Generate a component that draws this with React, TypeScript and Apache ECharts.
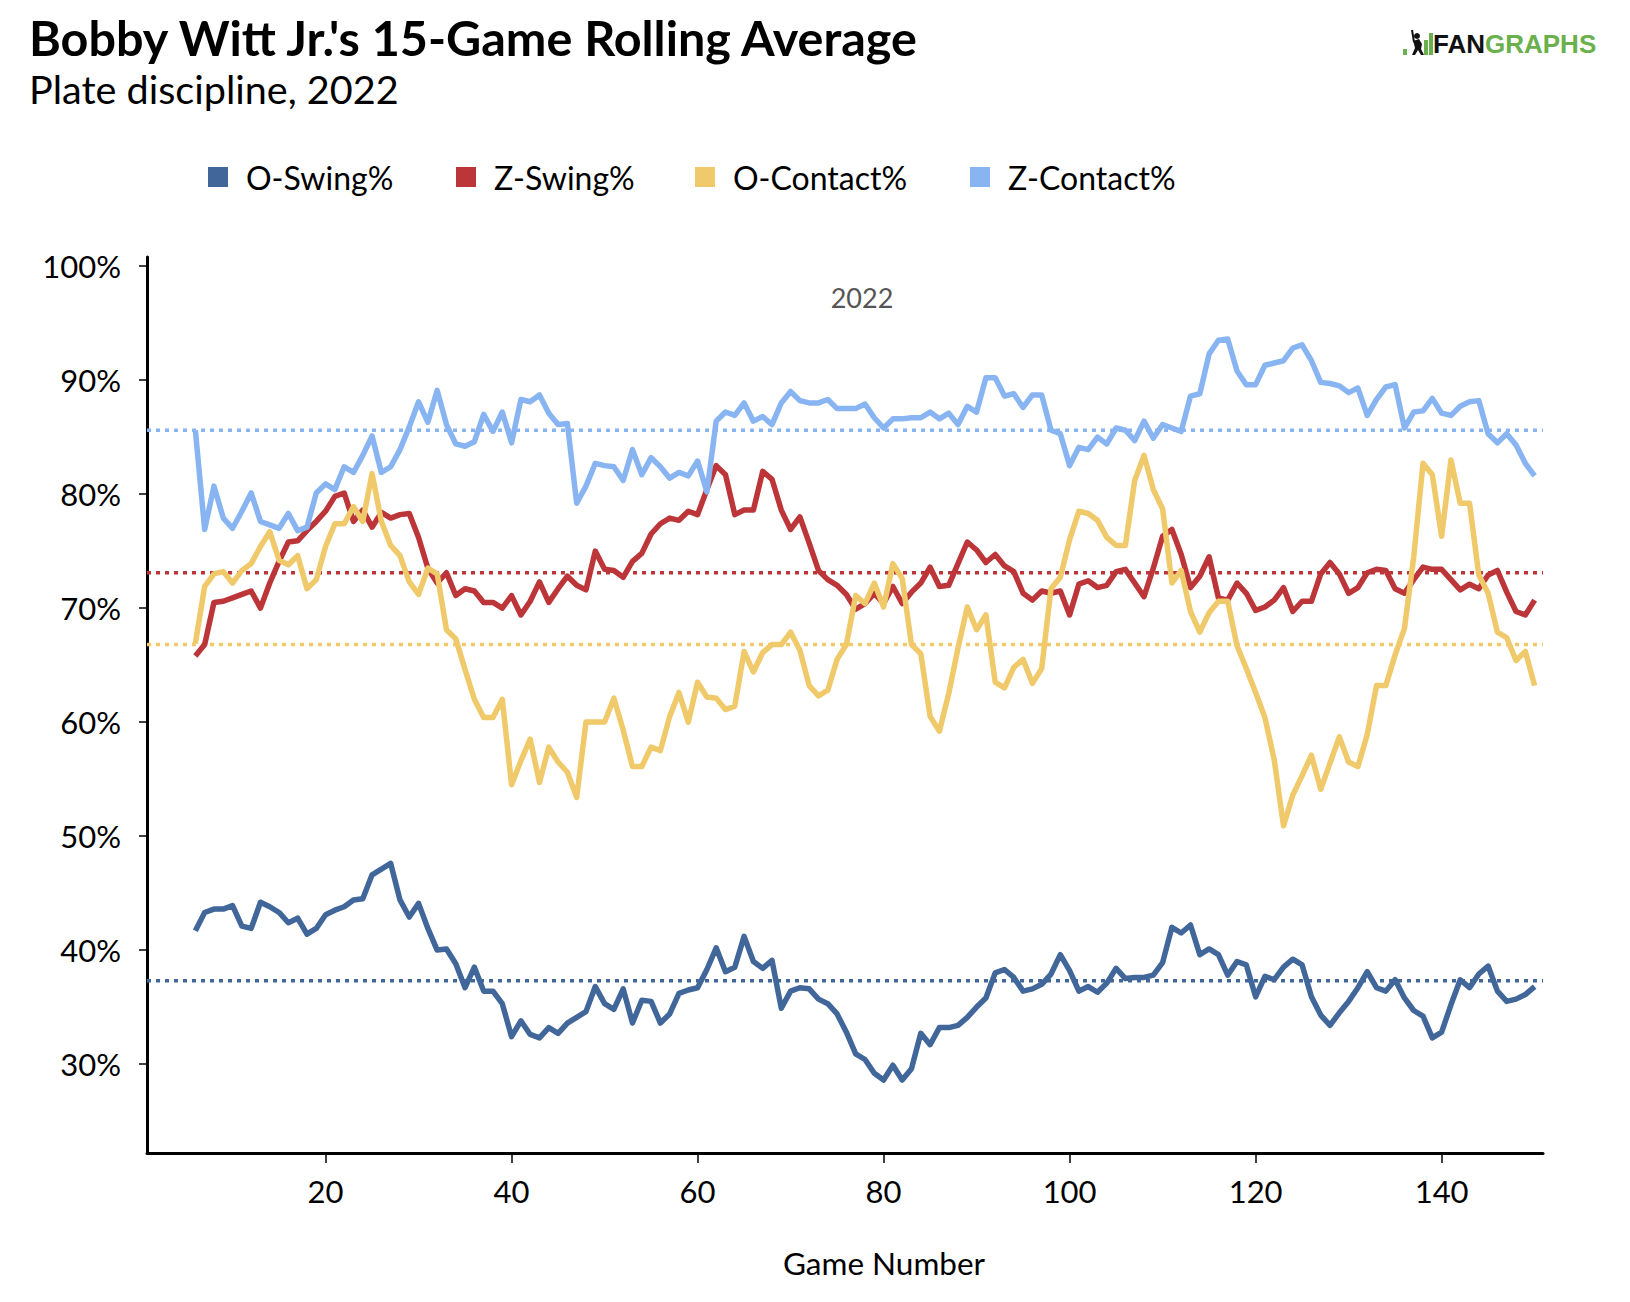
import React, { useRef, useEffect } from 'react';
import * as echarts from 'echarts';

// game numbers run from 6 to 150 (first 15-game window ends at game 6)
const firstGame = 6;

const seriesNames = ['O-Swing%', 'Z-Swing%', 'O-Contact%', 'Z-Contact%'];
const seriesColors = ['#41669A', '#BC3538', '#F0C96A', '#88B5F2'];
const seasonAverages = [37.3, 73.1, 66.8, 85.6];

const oSwing = [
  41.7, 43.3, 43.6, 43.6, 43.9, 42.1, 41.9, 44.2, 43.8, 43.3,
  42.4, 42.8, 41.4, 41.9, 43.1, 43.5, 43.8, 44.4, 44.5, 46.6,
  47.1, 47.6, 44.4, 42.9, 44.1, 41.9, 40.0, 40.1, 38.8, 36.7,
  38.5, 36.4, 36.4, 35.3, 32.4, 33.8, 32.6, 32.3, 33.2, 32.7,
  33.6, 34.1, 34.6, 36.8, 35.3,
  34.8, 36.6, 33.6, 35.6, 35.5, 33.6, 34.4, 36.2, 36.5, 36.7,
  38.3, 40.2, 38.1, 38.5, 41.2, 39.0, 38.4, 39.1, 34.9, 36.4,
  36.7, 36.6, 35.7, 35.3, 34.4, 32.8, 30.9, 30.4, 29.2, 28.6,
  29.9, 28.6, 29.6, 32.7, 31.7, 33.2, 33.2, 33.4, 34.1, 35.0,
  35.8, 38.0, 38.3, 37.6, 36.4, 36.6, 37.0, 37.9, 39.6, 38.2,
  36.4, 36.8, 36.3, 37.1, 38.4, 37.5, 37.6, 37.6, 37.8, 38.9,
  42.0, 41.5, 42.2, 39.6, 40.1, 39.6, 37.8, 39.0, 38.7, 35.9,
  37.7, 37.4, 38.5, 39.2, 38.7, 35.9, 34.3, 33.4, 34.5, 35.5,
  36.7, 38.1, 36.7, 36.4, 37.4, 35.8, 34.7, 34.2, 32.3, 32.8,
  35.2, 37.4, 36.7, 37.9, 38.6, 36.4, 35.5, 35.7, 36.1, 36.8,
];

const zSwing = [
  65.8, 66.8, 70.5, 70.6, 70.9, 71.2, 71.5, 70.0, 72.2, 74.1,
  75.8, 75.9, 76.8, 77.6, 78.5, 79.8, 80.1, 77.6, 78.6, 77.1,
  78.4, 77.9, 78.2, 78.3, 76.2, 73.5, 72.2, 73.1, 71.1, 71.7,
  71.5, 70.5, 70.5, 70.0, 71.1, 69.4, 70.6, 72.3, 70.5, 71.7,
  72.8, 72.0, 71.6, 75.0, 73.4,
  73.3, 72.7, 74.1, 74.8, 76.5, 77.4, 77.9, 77.7, 78.5, 78.2,
  80.4, 82.5, 81.7, 78.2, 78.6, 78.6, 82.0, 81.3, 78.6, 76.9,
  78.0, 75.7, 73.3, 72.5, 72.0, 71.2, 69.9, 70.4, 71.3, 70.4,
  71.9, 70.4, 71.4, 72.2, 73.6, 71.9, 72.0, 73.9, 75.8, 75.1,
  74.0, 74.7, 73.7, 73.2, 71.3, 70.7, 71.5, 71.3, 71.5, 69.4,
  72.1, 72.4, 71.8, 72.0, 73.2, 73.4, 72.2, 71.0, 73.5, 76.3,
  76.9, 74.7, 71.8, 72.8, 74.5, 70.9, 70.7, 72.2, 71.3, 69.8,
  70.1, 70.7, 71.8, 69.7, 70.6, 70.6, 73.0, 74.0, 73.0, 71.3,
  71.8, 73.1, 73.4, 73.3, 71.7, 71.3, 72.5, 73.6, 73.4, 73.4,
  72.5, 71.6, 72.1, 71.7, 72.9, 73.3, 71.4, 69.7, 69.4, 70.7,
];

const oContact = [
  66.9, 71.9, 73.0, 73.2, 72.2, 73.3, 73.9, 75.4, 76.7, 74.2,
  73.8, 74.6, 71.7, 72.5, 75.4, 77.4, 77.4, 78.9, 77.6, 81.8,
  77.6, 75.5, 74.6, 72.3, 71.2, 73.5, 73.0, 68.1, 67.3, 64.6,
  62.0, 60.4, 60.4, 62.0, 54.5, 56.6, 58.5, 54.7, 57.8, 56.5,
  55.6, 53.4, 60.0, 60.0, 60.0,
  62.1, 59.3, 56.1, 56.1, 57.8, 57.5, 60.5, 62.6, 60.0, 63.5,
  62.2, 62.1, 61.1, 61.4, 66.2, 64.4, 66.1, 66.8, 66.8, 67.9,
  66.3, 63.2, 62.3, 62.8, 65.5, 66.8, 71.1, 70.4, 72.2, 70.1,
  73.9, 72.6, 66.8, 66.0, 60.5, 59.2, 62.5, 66.5, 70.1, 68.1,
  69.4, 63.5, 63.0, 64.8, 65.5, 63.4, 64.7, 71.7, 72.7, 76.0,
  78.5, 78.3, 77.7, 76.2, 75.5, 75.5, 81.2, 83.4, 80.4, 78.7,
  72.2, 73.3, 69.7, 67.9, 69.6, 70.6, 70.6, 66.7, 64.7, 62.6,
  60.4, 56.7, 50.9, 53.6, 55.3, 57.1, 54.1, 56.4, 58.7, 56.5,
  56.1, 58.9, 63.2, 63.2, 65.9, 68.2, 74.5, 82.7, 81.7, 76.3,
  83.0, 79.2, 79.2, 72.9, 71.3, 67.9, 67.4, 65.4, 66.2, 63.2,
];

const zContact = [
  85.6, 76.9, 80.7, 77.9, 77.0, 78.5, 80.1, 77.6, 77.3, 77.0,
  78.3, 76.8, 77.1, 80.1, 80.9, 80.4, 82.4, 81.9, 83.4, 85.1,
  81.9, 82.4, 83.9, 85.9, 88.1, 86.3, 89.1, 86.1, 84.4, 84.2,
  84.6, 87.0, 85.5, 87.2, 84.5, 88.3, 88.1, 88.7, 87.1, 86.1,
  86.2, 79.2, 80.7, 82.7, 82.5,
  82.4, 81.2, 83.9, 81.7, 83.2, 82.4, 81.4, 81.9, 81.6, 82.9,
  80.2, 86.4, 87.2, 86.9, 88.0, 86.4, 86.8, 86.1, 88.0, 89.0,
  88.2, 88.0, 88.0, 88.3, 87.5, 87.5, 87.5, 87.9, 86.7, 85.8,
  86.6, 86.6, 86.7, 86.7, 87.2, 86.6, 87.1, 86.1, 87.7, 87.2,
  90.2, 90.2, 88.6, 88.8, 87.6, 88.7, 88.7, 85.6, 85.3, 82.5,
  84.1, 83.9, 85.0, 84.4, 85.8, 85.6, 84.7, 86.4, 84.9, 86.1,
  85.8, 85.5, 88.6, 88.8, 92.3, 93.5, 93.6, 90.8, 89.6, 89.6,
  91.3, 91.5, 91.7, 92.8, 93.1, 91.7, 89.8, 89.7, 89.5, 88.9,
  89.3, 86.9, 88.3, 89.4, 89.6, 85.8, 87.2, 87.3, 88.4, 87.1,
  86.9, 87.7, 88.1, 88.2, 85.3, 84.5, 85.3, 84.3, 82.7, 81.6,
];

const allSeries = [oSwing, zSwing, oContact, zContact];

const xTicks = [20, 40, 60, 80, 100, 120, 140];
const yTicks = [30, 40, 50, 60, 70, 80, 90, 100];
const xMin = 0.8;
const xMax = 150.9;
const yMin = 22.2;
const yMax = 100.8;

const FONT = 'Lato, "Noto Sans", sans-serif';
const legendLefts = [203, 451, 690, 965];

const App: React.FC = () => {
  const chartRef = useRef<HTMLDivElement>(null);

  useEffect(() => {
    if (!chartRef.current) return;
    document.body.style.margin = '0';
    const chart = echarts.init(chartRef.current, undefined, { renderer: 'svg' });

    const toPairs = (vals: number[]) => vals.map((v, i) => [firstGame + i, v]);

    // dotted season-average lines go underneath the rolling lines
    const avgSeries = seasonAverages.map((avg, i) => ({
      name: seriesNames[i] + ' avg',
      type: 'line' as const,
      data: [[xMin, avg], [xMax, avg]],
      showSymbol: false,
      silent: true,
      z: 1,
      lineStyle: { color: seriesColors[i], width: 3.5, type: [4, 5] as any },
    }));

    const lineSeries = allSeries.map((vals, i) => ({
      name: seriesNames[i],
      type: 'line' as const,
      data: toPairs(vals),
      showSymbol: false,
      z: 2 + i,
      color: seriesColors[i],
      itemStyle: { color: seriesColors[i] },
      lineStyle: { color: seriesColors[i], width: 5.5, join: 'round' as const },
    }));

    const option: echarts.EChartsOption = {
      animation: false,
      backgroundColor: '#fff',
      grid: { left: 147, right: 87, top: 257, bottom: 149 },
      legend: seriesNames.map((n, i) => ({
        data: [n],
        left: legendLefts[i],
        top: 156,
        icon: 'rect',
        itemWidth: 20,
        itemHeight: 20,
        selectedMode: false,
        textStyle: {
          fontFamily: FONT,
          fontSize: 32,
          color: '#000',
          padding: [0, 0, 0, 13],
        },
      })),
      xAxis: {
        type: 'value',
        min: xMin,
        max: xMax,
        axisLine: { onZero: false, lineStyle: { color: '#000', width: 3 } },
        axisTick: { customValues: xTicks, length: 10, lineStyle: { color: '#000', width: 1.5 } },
        axisLabel: {
          customValues: xTicks,
          margin: 22,
          fontFamily: FONT,
          fontSize: 31,
          color: '#000',
        },
        splitLine: { show: false },
      },
      yAxis: {
        type: 'value',
        min: yMin,
        max: yMax,
        axisLine: { show: true, lineStyle: { color: '#000', width: 3 } },
        axisTick: { show: true, customValues: yTicks, length: 8, lineStyle: { color: '#000', width: 1.5 } },
        axisLabel: {
          customValues: yTicks,
          margin: 26,
          fontFamily: FONT,
          fontSize: 31,
          color: '#000',
          formatter: (v: number) => `${v}%`,
        },
        splitLine: { show: false },
      },
      graphic: [
        {
          type: 'text',
          left: 29,
          top: 12,
          style: {
            text: "Bobby Witt Jr.'s 15-Game Rolling Average",
            fontFamily: FONT,
            fontWeight: 'bold',
            fontSize: 48.5,
            fill: '#000',
          },
        },
        {
          type: 'text',
          left: 29,
          top: 68,
          style: {
            text: 'Plate discipline, 2022',
            fontFamily: FONT,
            fontSize: 39.6,
            fill: '#000',
          },
        },
        {
          type: 'text',
          x: 862,
          y: 297,
          style: {
            text: '2022',
            fontFamily: FONT,
            fontSize: 27,
            fill: '#555',
            align: 'center',
            verticalAlign: 'middle',
          },
        },
        {
          type: 'text',
          x: 884,
          y: 1263,
          style: {
            text: 'Game Number',
            fontFamily: FONT,
            fontSize: 31.5,
            fill: '#000',
            align: 'center',
            verticalAlign: 'middle',
          },
        },
        // FanGraphs logo
        {
          type: 'group',
          x: 1403,
          y: 30,
          children: [
            { type: 'rect', shape: { x: 0, y: 19, width: 4, height: 6 }, style: { fill: '#6AB04C' } },
            { type: 'circle', shape: { cx: 14, cy: 6, r: 3 }, style: { fill: '#111' } },
            { type: 'line', shape: { x1: 9, y1: 0, x2: 11, y2: 12 }, style: { stroke: '#111', lineWidth: 2 } },
            {
              type: 'polygon',
              shape: { points: [[10, 11], [16, 9], [19, 14], [18, 19], [21, 25], [18, 25], [15, 20], [12, 25], [9, 25], [12, 18], [11, 14]] },
              style: { fill: '#111' },
            },
            { type: 'rect', shape: { x: 21, y: 10, width: 4, height: 15 }, style: { fill: '#6AB04C' } },
            { type: 'rect', shape: { x: 26, y: 3, width: 4, height: 22 }, style: { fill: '#6AB04C' } },
          ],
        },
        {
          type: 'text',
          x: 1433,
          y: 44,
          style: {
            text: '{a|FAN}{b|GRAPHS}',
            verticalAlign: 'middle',
            rich: {
              a: { fontFamily: '"Liberation Sans", Arial, sans-serif', fontWeight: 'bold', fontSize: 26, fill: '#111' },
              b: { fontFamily: '"Liberation Sans", Arial, sans-serif', fontWeight: 'bold', fontSize: 26, fill: '#6AB04C' },
            } as any,
          },
        },
      ],
      series: [...avgSeries, ...lineSeries] as any,
    };

    chart.setOption(option);

    return () => {
      chart.dispose();
    };
  }, []);

  return <div ref={chartRef} style={{ width: 1630, height: 1302 }} />;
};

export default App;
